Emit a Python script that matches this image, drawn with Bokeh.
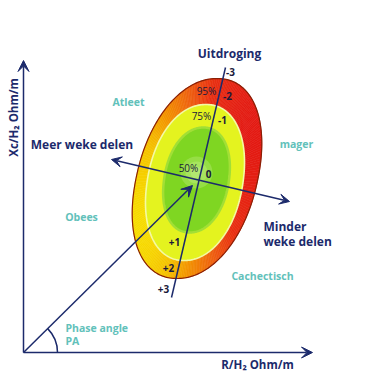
import numpy as np
from bokeh.plotting import figure
from bokeh.models import Range1d, Arrow, VeeHead
from bokeh.core.properties import value
from bokeh.embed import file_html
from bokeh.resources import INLINE

NAVY = "#1c2a6b"
TEAL = "#62c1ba"
FONT = "Open Sans"

# ---- data (chart coordinates, origin at the axes corner) ----
axis_x_end = 289
axis_y_end = 292
vector_end = [169, 167]
phase_arc_radius = 34

# percentile rings: centre, half width, half height, lean (shear), fill
ring_names = ["95%", "75%", "50%"]
ring_cx = [173.5, 171.5, 173.0]
ring_cy = [174.0, 170.0, 172.5]
ring_a = [61, 48, 32.5]
ring_b = [100, 78, 52.5]
ring_lean = [0.20, 0.14, 0.13]
ring_colors = [None, "#e4f31f", "#7fd622"]
ring_power = 2.12

# colour gradient of the outer band (left -> right)
grad_dir = [1.0, 0.145]
grad_stops = [0.0, 0.18, 0.33, 0.52, 0.72, 1.0]
grad_colors = ["#f7dc00", "#f5c000", "#f39400", "#ef6410", "#e93012", "#e31a12"]

glow_center = [173, 180]
glow_radii = [16, 11, 6]

hyd_line = [[148, 55], [202, 285]]
hyd_ticks = ["-3", "-2", "-1", "0", "+1", "+2", "+3"]
hyd_tick_x = [207, 204, 199, 185, 151, 145, 140]
hyd_tick_y = [281, 257, 233, 179, 111, 85, 64]

pct_labels = ["95%", "75%", "50%"]
pct_x = [183, 178, 165]
pct_y = [262, 237, 185]

soft_line = [[88, 193], [266, 151]]

zone_labels = ["Atleet", "mager", "Obees", "Cachectisch"]
zone_x = [105, 273, 58, 239]
zone_y = [251, 209, 136, 77]

# ---- figure ----
p = figure(width=377, height=377, output_backend="svg", toolbar_location=None,
           x_range=Range1d(-23, 354), y_range=Range1d(-25, 352), min_border=0)
p.axis.visible = False
p.grid.visible = False
p.outline_line_color = None
p.background_fill_color = "white"


def hex2rgb(h):
    return np.array([int(h[i:i + 2], 16) for i in (1, 3, 5)], dtype=float)


RGBS = np.array([hex2rgb(c) for c in grad_colors])


def grad(u):
    r = np.interp(u, grad_stops, RGBS[:, 0])
    g = np.interp(u, grad_stops, RGBS[:, 1])
    b = np.interp(u, grad_stops, RGBS[:, 2])
    return "#%02x%02x%02x" % (int(r), int(g), int(b))


def ring_shape(i, n=240):
    t = np.linspace(0, 2 * np.pi, n + 1)
    e = 2.0 / ring_power
    c = np.sign(np.cos(t)) * np.abs(np.cos(t)) ** e
    s = np.sign(np.sin(t)) * np.abs(np.sin(t)) ** e
    dy = ring_b[i] * s
    x = ring_cx[i] + ring_a[i] * c + ring_lean[i] * dy
    y = ring_cy[i] + dy
    return x, y


# outer ring drawn as coloured wedges (gradient)
ex, ey = ring_shape(0)
cx, cy = ring_cx[0], ring_cy[0]
proj = ex * grad_dir[0] + ey * grad_dir[1]
pmin, pmax = proj.min(), proj.max()
xs, ys, cols = [], [], []
for i in range(len(ex) - 1):
    xs.append([cx, ex[i], ex[i + 1]])
    ys.append([cy, ey[i], ey[i + 1]])
    u = ((proj[i] + proj[i + 1]) / 2 - pmin) / (pmax - pmin)
    cols.append(grad(u))
p.patches(xs, ys, fill_color=cols, line_color=cols, line_width=0.6)
p.line(ex, ey, line_color="#8a1f05", line_width=1.2)

x1, y1 = ring_shape(1)
p.patch(x1, y1, fill_color=ring_colors[1], line_color="#f4f9a4", line_width=1.6)
x2, y2 = ring_shape(2)
p.patch(x2, y2, fill_color=ring_colors[2], line_color="#a2df36", line_width=2.5)
p.circle(x=[glow_center[0]] * 3, y=[glow_center[1]] * 3, radius=glow_radii,
         fill_color="#d4f5a0", fill_alpha=0.28, line_color=None)

# axes
p.add_layout(Arrow(end=VeeHead(size=11, fill_color=NAVY, line_color=NAVY),
                   x_start=0, y_start=0, x_end=0, y_end=axis_y_end,
                   line_color=NAVY, line_width=1.5))
p.add_layout(Arrow(end=VeeHead(size=11, fill_color=NAVY, line_color=NAVY),
                   x_start=0, y_start=0, x_end=axis_x_end, y_end=0,
                   line_color=NAVY, line_width=1.5))

# hydration line
p.line([hyd_line[0][0], hyd_line[1][0]], [hyd_line[0][1], hyd_line[1][1]],
       line_color=NAVY, line_width=1.5)

# soft tissue double arrow
p.add_layout(Arrow(start=VeeHead(size=10, fill_color=NAVY, line_color=NAVY),
                   end=VeeHead(size=10, fill_color=NAVY, line_color=NAVY),
                   x_start=soft_line[0][0], y_start=soft_line[0][1],
                   x_end=soft_line[1][0], y_end=soft_line[1][1],
                   line_color=NAVY, line_width=1.5))

# impedance vector
p.add_layout(Arrow(end=VeeHead(size=11, fill_color=NAVY, line_color=NAVY),
                   x_start=0, y_start=0, x_end=vector_end[0], y_end=vector_end[1],
                   line_color=NAVY, line_width=1.5))

# phase angle arc
pa = np.arctan2(vector_end[1], vector_end[0])
p.arc(x=0, y=0, radius=phase_arc_radius, start_angle=0, end_angle=pa,
      line_color=NAVY, line_width=1.5)

# texts
p.text(x=hyd_tick_x, y=hyd_tick_y, text=hyd_ticks, text_font=value(FONT),
       text_font_size="10px", text_font_style="bold", text_color="#1a1a3a",
       text_align="center", text_baseline="middle")
p.text(x=pct_x, y=pct_y, text=pct_labels, text_font=value(FONT),
       text_font_size="10px", text_color="#1a1a3a",
       text_align="center", text_baseline="middle")
p.text(x=zone_x, y=zone_y, text=zone_labels, text_font=value(FONT),
       text_font_size="10.5px", text_font_style="bold", text_color=TEAL,
       text_align="center", text_baseline="middle")

p.text(x=[206], y=[299], text=["Uitdroging"], text_font=value(FONT),
       text_font_size="12px", text_font_style="bold", text_color=NAVY,
       text_align="center", text_baseline="middle")
p.text(x=[58.5], y=[208], text=["Meer weke delen"], text_font=value(FONT),
       text_font_size="12px", text_font_style="bold", text_color=NAVY,
       text_align="center", text_baseline="middle")
p.text(x=[240, 240], y=[126, 111], text=["Minder", "weke delen"], text_font=value(FONT),
       text_font_size="12px", text_font_style="bold", text_color=NAVY,
       text_align="left", text_baseline="middle")
p.text(x=[42, 42], y=[25, 12], text=["Phase angle", "PA"], text_font=value(FONT),
       text_font_size="10.5px", text_font_style="bold", text_color=TEAL,
       text_align="left", text_baseline="middle")
p.text(x=[-10], y=[235], text=["Xc/H₂ Ohm/m"], angle=np.pi / 2, text_font=value(FONT),
       text_font_size="11.5px", text_font_style="bold", text_color=NAVY,
       text_align="center", text_baseline="middle")
p.text(x=[234], y=[-12], text=["R/H₂ Ohm/m"], text_font=value(FONT),
       text_font_size="11.5px", text_font_style="bold", text_color=NAVY,
       text_align="center", text_baseline="middle")

open("out.html", "w").write(file_html(p, INLINE))
